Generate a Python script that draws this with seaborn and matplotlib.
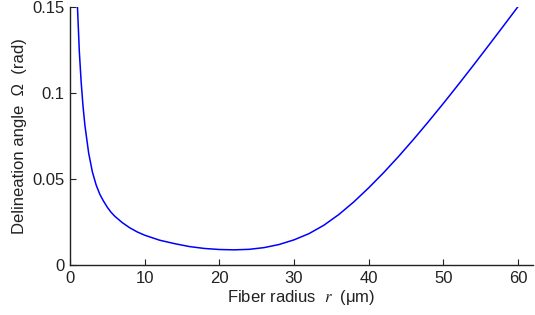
import matplotlib
matplotlib.use("Agg")
import matplotlib.pyplot as plt
import seaborn as sns
import pandas as pd

# fiber radius r (um) and delineation angle Omega (rad)
radius = [1.0, 1.25, 1.5, 1.75, 2.0, 2.5, 3.0, 3.5, 4.0, 4.5, 5.0, 5.5,
          6.0, 7.0, 8.0, 9.0, 10, 12, 14, 16, 18, 20, 22, 24, 26, 28,
          30, 32, 34, 36, 38, 40, 42, 44, 46, 48, 50, 52, 54, 56, 58, 60]
omega = [0.150, 0.124, 0.106, 0.092, 0.081, 0.065, 0.054, 0.0465, 0.041,
         0.0370, 0.0335, 0.0306, 0.0283, 0.0246, 0.0216, 0.0192, 0.0173,
         0.0144, 0.0124, 0.0107, 0.0096, 0.0090, 0.0088, 0.0091, 0.0101,
         0.0119, 0.0146, 0.0182, 0.0231, 0.0293, 0.0366, 0.0448, 0.0536,
         0.0630, 0.0729, 0.0832, 0.0938, 0.1047, 0.1158, 0.1271, 0.1385,
         0.1500]

xticks = [0, 10, 20, 30, 40, 50, 60]
yticks = [0, 0.05, 0.1, 0.15]
ytick_labels = ["0", "0.05", "0.1", "0.15"]

df = pd.DataFrame({"r": radius, "omega": omega})

sns.set_style("ticks")
plt.rcParams["font.family"] = ["Liberation Sans", "DejaVu Sans"]
plt.rcParams["mathtext.fontset"] = "stix"

fig = plt.figure(figsize=(5.35, 3.15), dpi=100)
ax = fig.add_axes([0.1308, 0.1587, 0.8655, 0.8206])

sns.lineplot(data=df, x="r", y="omega", color="#0000ff", linewidth=1.1, ax=ax)

ax.set_xlim(0, 62)
ax.set_ylim(0, 0.15)
ax.set_xticks(xticks)
ax.set_yticks(yticks)
ax.set_yticklabels(ytick_labels)
ax.tick_params(direction="in", length=4, width=0.8, labelsize=12,
               colors="#222222", pad=4)
for side in ["top", "right"]:
    ax.spines[side].set_visible(False)
for side in ["left", "bottom"]:
    ax.spines[side].set_linewidth(1.0)
    ax.spines[side].set_color("#222222")

ax.set_xlabel("Fiber radius  $r$  (\u03bcm)", fontsize=12, color="#222222", labelpad=2)
ax.set_ylabel("Delineation angle  \u03a9  (rad)", fontsize=12, color="#222222", labelpad=4)

plt.savefig("out.png", dpi=100)
